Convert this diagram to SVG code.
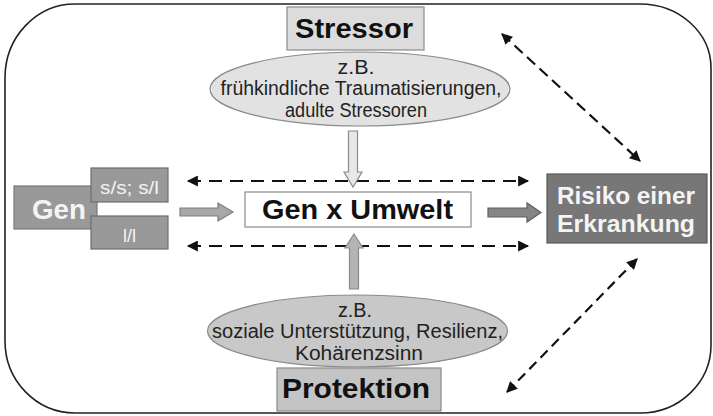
<svg xmlns="http://www.w3.org/2000/svg" width="713" height="416" viewBox="0 0 713 416">
<defs>
<style>
.t{font-family:"Liberation Sans",Arial,sans-serif;}
.b{font-weight:bold;}
.dash{fill:none;stroke:#111;stroke-width:2.2;}
</style>
<marker id="ah" viewBox="0 0 10 10" refX="9" refY="5" markerWidth="12" markerHeight="11" markerUnits="userSpaceOnUse" orient="auto-start-reverse">
<path d="M0,0 L10,5 L0,10 z" fill="#111"/>
</marker>
</defs>
<rect width="713" height="416" fill="#fff"/>
<path d="M75,4 H640 A71,64 0 0 1 711,68 V345 A71,68 0 0 1 640,413 H75 A70,72 0 0 1 5,341 V78 A70,74 0 0 1 75,4 Z" fill="none" stroke="#222" stroke-width="1.6"/>

<g id="stressor">
<rect x="287" y="7" width="137" height="43" fill="#dcdcdc" stroke="#8a8a8a" stroke-width="1.2"/>
<text class="t b" x="354" y="38" font-size="28" text-anchor="middle" textLength="118" lengthAdjust="spacingAndGlyphs" fill="#111">Stressor</text>
</g>
<g id="stressor-examples">
<ellipse cx="360" cy="89" rx="150" ry="37" fill="#e2e2e2" stroke="#8a8a8a" stroke-width="1.2"/>
<g class="t" font-size="19.5" text-anchor="middle" fill="#222">
<text x="356" y="74" textLength="37" lengthAdjust="spacingAndGlyphs">z.B.</text>
<text x="361" y="95" textLength="281" lengthAdjust="spacingAndGlyphs">frühkindliche Traumatisierungen,</text>
<text x="356" y="117" textLength="142" lengthAdjust="spacingAndGlyphs">adulte Stressoren</text>
</g>
</g>

<g id="gen">
<rect x="14" y="186" width="83" height="43" fill="#999" stroke="#7a7a7a" stroke-width="1.2"/>
<text class="t b" x="59" y="219" font-size="28" text-anchor="middle" textLength="54" lengthAdjust="spacingAndGlyphs" fill="#f4f4f4">Gen</text>
</g>
<g id="allele-ss-sl">
<rect x="91" y="168" width="77" height="34" fill="#999" stroke="#6e6e6e" stroke-width="1.2"/>
<text class="t" x="129.5" y="194" font-size="18" text-anchor="middle" textLength="59" lengthAdjust="spacingAndGlyphs" fill="#f4f4f4">s/s; s/l</text>
</g>
<g id="allele-ll">
<rect x="91" y="216" width="77" height="33" fill="#999" stroke="#6e6e6e" stroke-width="1.2"/>
<text class="t" x="129.5" y="242" font-size="18" text-anchor="middle" fill="#f4f4f4">l/l</text>
</g>

<g id="gen-x-umwelt">
<rect x="245" y="192" width="226" height="35" fill="#fff" stroke="#8a8a8a" stroke-width="1.2"/>
<text class="t b" x="357.5" y="219" font-size="27" text-anchor="middle" textLength="191" lengthAdjust="spacingAndGlyphs" fill="#111">Gen x Umwelt</text>
</g>

<g id="risiko">
<rect x="547" y="174" width="160" height="69" fill="#777" stroke="#5a5a5a" stroke-width="1.2"/>
<text class="t b" x="626" y="204" font-size="24.5" text-anchor="middle" textLength="138" lengthAdjust="spacingAndGlyphs" fill="#f4f4f4">Risiko einer</text>
<text class="t b" x="626" y="232" font-size="24.5" text-anchor="middle" textLength="138" lengthAdjust="spacingAndGlyphs" fill="#f4f4f4">Erkrankung</text>
</g>

<g id="protektion-examples">
<ellipse cx="357.5" cy="331" rx="150" ry="36" fill="#c8c8c8" stroke="#8a8a8a" stroke-width="1.2"/>
<g class="t" font-size="19.5" text-anchor="middle" fill="#222">
<text x="355" y="317" textLength="34" lengthAdjust="spacingAndGlyphs">z.B.</text>
<text x="357.5" y="338" textLength="291" lengthAdjust="spacingAndGlyphs">soziale Unterstützung, Resilienz,</text>
<text x="359" y="360" textLength="128" lengthAdjust="spacingAndGlyphs">Kohärenzsinn</text>
</g>
</g>
<g id="protektion">
<rect x="277" y="368" width="164" height="43" fill="#c4c4c4" stroke="#8a8a8a" stroke-width="1.2"/>
<text class="t b" x="356" y="398" font-size="28" text-anchor="middle" textLength="148" lengthAdjust="spacingAndGlyphs" fill="#111">Protektion</text>
</g>

<g id="connectors">
<line class="dash" x1="188" y1="181" x2="528" y2="181" stroke-dasharray="13 8" marker-start="url(#ah)" marker-end="url(#ah)"/>
<line class="dash" x1="188" y1="246" x2="528" y2="246" stroke-dasharray="13 8" marker-start="url(#ah)" marker-end="url(#ah)"/>
<line class="dash" x1="502" y1="34" x2="640" y2="161" stroke-dasharray="11 6" marker-start="url(#ah)" marker-end="url(#ah)"/>
<line class="dash" x1="637" y1="259" x2="507" y2="392" stroke-dasharray="10 6" marker-start="url(#ah)" marker-end="url(#ah)"/>
<path d="M348.5,131 H357.5 V172 H362 L353,187 L344,172 H348.5 Z" fill="#e8e8e8" stroke="#8a8a8a" stroke-width="1.2"/>
<path d="M349.5,289 H358.5 V248 H363 L354,234 L345,248 H349.5 Z" fill="#b4b4b4" stroke="#8a8a8a" stroke-width="1.2"/>
<path d="M180,208 H218 V203 L233,212 L218,221 V216 H180 Z" fill="#a8a8a8" stroke="#7e7e7e" stroke-width="1.2"/>
<path d="M488,208 H527 V203 L541,212.5 L527,222 V217 H488 Z" fill="#858585" stroke="#5e5e5e" stroke-width="1.2"/>
</g>
</svg>
